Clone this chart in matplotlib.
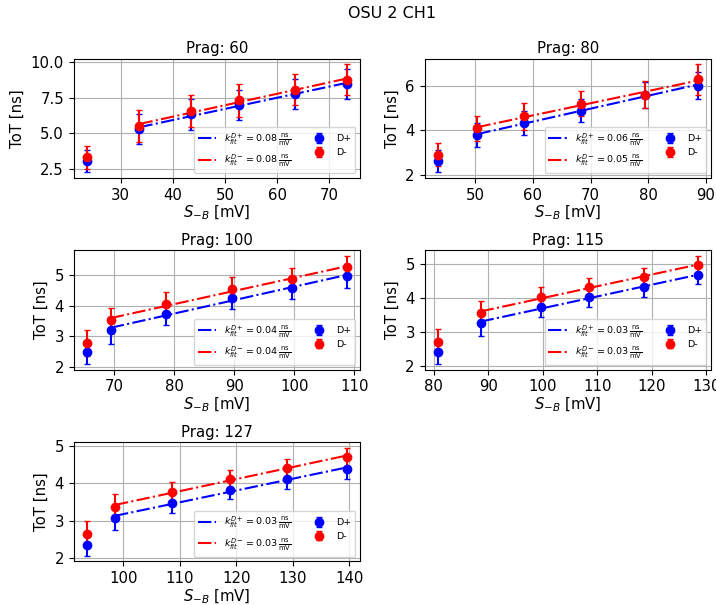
import matplotlib
matplotlib.use("Agg")
import matplotlib.pyplot as plt
import numpy as np

# praguri si date
pragi = [60, 80, 100, 115, 127]

s_b = {
    60:  [23.5, 33.6, 43.5, 52.6, 63.4, 73.4],
    80:  [43.5, 50.4, 58.4, 68.4, 79.4, 88.6],
    100: [65.5, 69.5, 78.6, 89.7, 99.7, 108.8],
    115: [80.7, 88.6, 99.6, 108.5, 118.5, 128.5],
    127: [93.5, 98.5, 108.6, 118.8, 128.9, 139.6],
}

tot_dp = {
    60:  [3.05, 5.28, 6.32, 7.00, 7.78, 8.45],
    80:  [2.62, 3.80, 4.32, 4.88, 5.57, 6.00],
    100: [2.50, 3.20, 3.74, 4.25, 4.57, 4.96],
    115: [2.41, 3.25, 3.75, 4.02, 4.32, 4.68],
    127: [2.35, 3.08, 3.48, 3.82, 4.11, 4.39],
}
err_dp = {
    60:  [0.80, 1.05, 1.10, 1.05, 1.05, 1.05],
    80:  [0.50, 0.55, 0.55, 0.52, 0.58, 0.60],
    100: [0.40, 0.43, 0.36, 0.35, 0.35, 0.39],
    115: [0.37, 0.36, 0.30, 0.29, 0.28, 0.27],
    127: [0.30, 0.34, 0.27, 0.25, 0.25, 0.26],
}

tot_dm = {
    60:  [3.30, 5.50, 6.55, 7.30, 8.05, 8.75],
    80:  [2.92, 4.10, 4.63, 5.19, 5.60, 6.28],
    100: [2.79, 3.52, 4.04, 4.55, 4.85, 5.25],
    115: [2.71, 3.56, 4.04, 4.32, 4.63, 4.98],
    127: [2.65, 3.37, 3.78, 4.13, 4.42, 4.71],
}
err_dm = {
    60:  [0.80, 1.10, 1.10, 1.15, 1.10, 1.10],
    80:  [0.50, 0.56, 0.60, 0.57, 0.60, 0.68],
    100: [0.41, 0.41, 0.40, 0.37, 0.37, 0.36],
    115: [0.38, 0.36, 0.30, 0.28, 0.27, 0.27],
    127: [0.34, 0.35, 0.26, 0.23, 0.25, 0.25],
}


def fit_label(x, y, sign):
    """Fit liniar fara primul punct; intoarce dreapta si eticheta."""
    x = np.asarray(x[1:])
    y = np.asarray(y[1:])
    k, b = np.polyfit(x, y, 1)
    lbl = r"$k_{fit}^{D" + sign + r"} = %.2f\,\frac{\mathrm{ns}}{\mathrm{mV}}$" % k
    return x, k * x + b, lbl


plt.rcParams["font.size"] = 10.7

fig, axes = plt.subplots(3, 2, figsize=(7.16, 6.05), dpi=100)
fig.subplots_adjust(left=0.103, right=0.993, top=0.903, bottom=0.072,
                    wspace=0.225, hspace=0.61)
fig.suptitle("OSU 2 CH1", fontsize=11.5, x=0.547, y=0.99)

for ax, p in zip(axes.flat, pragi):
    x = s_b[p]
    ax.errorbar(x, tot_dp[p], yerr=err_dp[p], fmt="o", color="blue",
                markersize=6, capsize=2, label="D+")
    ax.errorbar(x, tot_dm[p], yerr=err_dm[p], fmt="o", color="red",
                markersize=6, capsize=2, label="D-")

    xf, yf, lbl = fit_label(x, tot_dp[p], "+")
    ax.plot(xf, yf, "-.", color="blue", linewidth=1.5, label=lbl)
    xf, yf, lbl = fit_label(x, tot_dm[p], "-")
    ax.plot(xf, yf, "-.", color="red", linewidth=1.5, label=lbl)

    ax.set_title(f"Prag: {p}", fontsize=10.7, pad=4)
    ax.set_xlabel(r"$S_{-B}$ [mV]", labelpad=1)
    ax.set_ylabel("ToT [ns]")
    ax.grid(True)
    ax.legend(loc="lower right", ncol=2, fontsize=6.8)

axes[2, 1].remove()

plt.savefig("out.png", dpi=100)
